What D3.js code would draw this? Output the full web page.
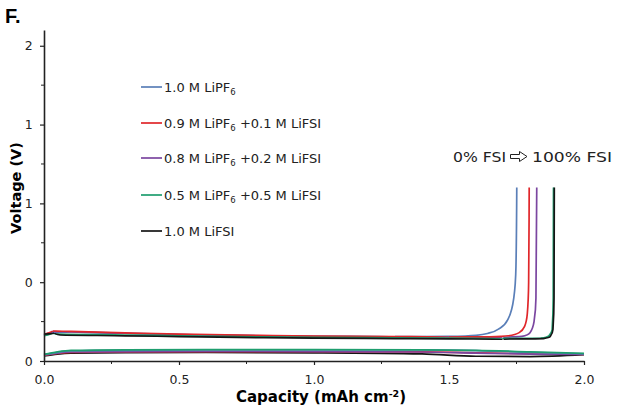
<!DOCTYPE html>
<html>
<head>
<meta charset="utf-8">
<script src="https://cdn.jsdelivr.net/npm/d3@7"></script>
<style>
  body { margin: 0; background: #fff; }
  svg { font-family: "DejaVu Sans", Verdana, sans-serif; }
</style>
</head>
<body>
<svg width="620" height="410"></svg>
<script>
// series names / colours
const seriesNames = ["1.0 M LiPF6", "0.9 M LiPF6 +0.1 M LiFSI", "0.8 M LiPF6 +0.2 M LiFSI", "0.5 M LiPF6 +0.5 M LiFSI", "1.0 M LiFSI"];
const seriesColors = ["#5a7fb8", "#e0262a", "#7b46a0", "#1e9e6e", "#151515"];

// upper (stripping) curves: [capacity, voltage]
const upperBlue = [[0,0.165],[0.03,0.182],[0.1,0.184],[0.3,0.176],[0.5,0.168],[0.8,0.16],[1.0,0.157],[1.3,0.155],[1.5,0.156],[1.6,0.163],[1.65,0.178],[1.69,0.21],[1.72,0.27],[1.74,0.4],[1.748,0.6],[1.751,1.1]];
const upperRed = [[0,0.17],[0.03,0.19],[0.1,0.188],[0.3,0.178],[0.5,0.17],[0.8,0.162],[1.0,0.158],[1.3,0.155],[1.5,0.152],[1.65,0.153],[1.72,0.16],[1.76,0.18],[1.78,0.22],[1.79,0.3],[1.795,0.5],[1.797,1.1]];
const upperPurple = [[0,0.168],[0.03,0.186],[0.1,0.185],[0.3,0.176],[0.5,0.167],[0.8,0.159],[1.0,0.155],[1.3,0.152],[1.5,0.15],[1.7,0.149],[1.77,0.156],[1.8,0.18],[1.815,0.25],[1.822,0.4],[1.825,1.1]];
const upperGreen = [[0,0.16],[0.03,0.176],[0.06,0.17],[0.3,0.165],[0.5,0.16],[0.8,0.153],[1.0,0.15],[1.3,0.147],[1.5,0.145],[1.7,0.143],[1.84,0.145],[1.87,0.16],[1.882,0.2],[1.886,0.4],[1.887,1.1]];
const upperBlack = [[0,0.17],[0.04,0.178],[0.06,0.165],[0.3,0.16],[0.5,0.155],[0.8,0.148],[1.0,0.145],[1.3,0.142],[1.5,0.14],[1.7,0.139],[1.85,0.142],[1.875,0.155],[1.885,0.2],[1.889,0.4],[1.89,1.1]];

// lower (plating) curves
const lowerBlue = [[0,0.04],[0.05,0.055],[0.1,0.064],[0.3,0.068],[0.6,0.07],[1.0,0.07],[1.4,0.07],[1.6,0.066],[1.8,0.055],[2.0,0.046]];
const lowerRed = [[0,0.036],[0.05,0.048],[0.1,0.055],[0.3,0.058],[0.6,0.06],[1.0,0.06],[1.4,0.058],[1.6,0.052],[1.8,0.046],[2.0,0.042]];
const lowerPurple = [[0,0.038],[0.05,0.05],[0.1,0.057],[0.3,0.06],[0.6,0.061],[1.0,0.06],[1.4,0.057],[1.6,0.05],[1.8,0.044],[2.0,0.042]];
const lowerGreen = [[0,0.042],[0.05,0.058],[0.1,0.067],[0.3,0.071],[0.6,0.072],[1.0,0.072],[1.4,0.071],[1.6,0.068],[1.8,0.058],[2.0,0.048]];
const lowerBlack = [[0,0.032],[0.05,0.044],[0.1,0.05],[0.3,0.053],[0.6,0.054],[1.0,0.052],[1.4,0.045],[1.6,0.03],[1.8,0.028],[2.0,0.04]];

const upperCurves = [upperBlue, upperRed, upperPurple, upperGreen, upperBlack];
const lowerCurves = [lowerBlue, lowerRed, lowerPurple, lowerGreen, lowerBlack];

const xTicks = [0, 0.5, 1.0, 1.5, 2.0];
const xTickLabels = ["0.0", "0.5", "1.0", "1.5", "2.0"];
const yTicks = [0, 0.5, 1.0, 1.5, 2.0];
const yTickLabels = ["0", "0", "1", "1", "2"];
const minorX = [0.25, 0.75, 1.25, 1.75];
const minorY = [0.25, 0.75, 1.25, 1.75];

const margin = { top: 30, right: 36, bottom: 49, left: 44 },
  width = 620 - margin.left - margin.right,
  height = 410 - margin.top - margin.bottom;

const svg = d3.select("svg");
const g = svg.append("g").attr("transform", `translate(${margin.left},${margin.top})`);

const x = d3.scaleLinear().domain([0, 2]).range([0, width]);
const y = d3.scaleLinear().domain([0, 2.1]).range([height, 0]);

const line = d3.line().x(d => x(d[0])).y(d => y(d[1])).curve(d3.curveMonotoneX);
const lineV = d3.line().x(d => x(d[0])).y(d => y(d[1])).curve(d3.curveMonotoneY);

// lower curves drawn back to front, blue/green last
[4, 1, 2, 0, 3].forEach(i => {
  g.append("path").attr("d", line(lowerCurves[i]))
    .attr("fill", "none").attr("stroke", seriesColors[i]).attr("stroke-width", 1.7);
});
[0, 2, 1, 3, 4].forEach(i => {
  g.append("path").attr("d", lineV(upperCurves[i]))
    .attr("fill", "none").attr("stroke", seriesColors[i]).attr("stroke-width", 1.7);
});

// axes
const xAxis = d3.axisBottom(x).tickValues(xTicks).tickFormat((d, i) => xTickLabels[i]).tickSize(4).tickSizeOuter(0);
const yAxis = d3.axisLeft(y).tickValues(yTicks).tickFormat((d, i) => yTickLabels[i]).tickSize(4).tickSizeOuter(0);

const gx = g.append("g").attr("transform", `translate(0,${height})`).call(xAxis);
const gy = g.append("g").call(yAxis);
minorX.forEach(v => gx.append("line").attr("x1", x(v)).attr("x2", x(v)).attr("y1", 0).attr("y2", 3).attr("stroke", "#222"));
minorY.forEach(v => gy.append("line").attr("y1", y(v)).attr("y2", y(v)).attr("x1", 0).attr("x2", -3).attr("stroke", "#222"));

[gx, gy].forEach(a => {
  a.select(".domain").attr("stroke", "#222").attr("stroke-width", 1.6);
  a.selectAll(".tick line").attr("stroke", "#222").attr("stroke-width", 1.2);
  a.selectAll(".tick text").attr("font-size", 12.5).attr("fill", "#222")
    .attr("font-family", "DejaVu Sans, Verdana, sans-serif");
});
gx.selectAll(".tick text").attr("dy", "1.25em");
gy.selectAll(".tick text").attr("dx", "-0.35em");

// labels
svg.append("text").attr("x", 5).attr("y", 23).text("F.")
  .attr("font-family", "Liberation Sans, Arial, sans-serif").attr("font-weight", "bold").attr("font-size", 20);

svg.append("text")
  .attr("transform", "translate(21,188) rotate(-90)")
  .attr("text-anchor", "middle").attr("font-weight", "bold").attr("font-size", 14.5)
  .text("Voltage (V)");

const xl = svg.append("text").attr("x", 321).attr("y", 402)
  .attr("text-anchor", "middle").attr("font-weight", "bold").attr("font-size", 15);
xl.append("tspan").text("Capacity (mAh cm");
xl.append("tspan").attr("font-size", 9.5).attr("dy", -5).text("-2");
xl.append("tspan").attr("dy", 5).text(")");

// legend
const legendY = [87, 123, 158, 195, 231];
seriesNames.forEach((name, i) => {
  const ly = legendY[i];
  svg.append("line").attr("x1", 141).attr("x2", 162).attr("y1", ly).attr("y2", ly)
    .attr("stroke", seriesColors[i]).attr("stroke-width", 1.7);
  const t = svg.append("text").attr("x", 164).attr("y", ly + 4.5).attr("font-size", 13).attr("fill", "#222");
  const parts = name.split("LiPF6");
  if (parts.length > 1) {
    t.append("tspan").text(parts[0] + "LiPF");
    t.append("tspan").attr("font-size", 8.5).attr("dy", 3).text("6");
    t.append("tspan").attr("dy", -3).text(parts[1]);
  } else {
    t.text(name);
  }
});

// annotation: 0% FSI => 100% FSI
svg.append("text").attr("x", 453).attr("y", 162).attr("font-size", 14.5).attr("fill", "#222")
  .attr("textLength", 53).attr("lengthAdjust", "spacingAndGlyphs").text("0% FSI");
svg.append("path")
  .attr("d", "M510.5,154.5H519.5V151.5L527,156.5L519.5,161.5V158.5H510.5Z")
  .attr("fill", "#fff").attr("stroke", "#222").attr("stroke-width", 1);
svg.append("text").attr("x", 532).attr("y", 162).attr("font-size", 14.5).attr("fill", "#222")
  .attr("textLength", 80).attr("lengthAdjust", "spacingAndGlyphs").text("100% FSI");
</script>
</body>
</html>
